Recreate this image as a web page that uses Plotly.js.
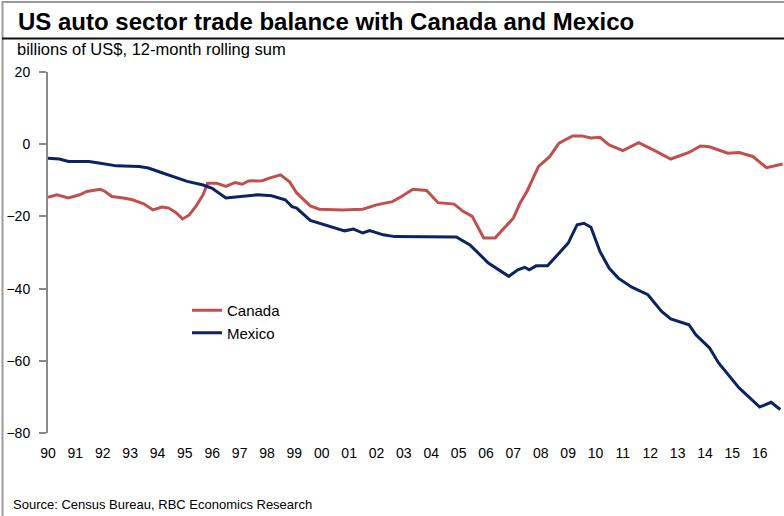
<!DOCTYPE html>
<html>
<head>
<meta charset="utf-8">
<script src="https://cdn.plot.ly/plotly-3.0.1.min.js"></script>
<style>html,body{margin:0;padding:0;background:#fff;}#chart{width:784px;height:516px;}</style>
</head>
<body>
<div id="chart"></div>
<script>
// Canada: US auto sector trade balance, billions of US$, 12-month rolling sum
var canadaDates = ["1990-01","1990-05","1990-10","1991-03","1991-06","1991-12","1992-02","1992-05","1992-10","1993-02","1993-07","1993-11","1994-03","1994-06","1994-09","1994-12","1995-03","1995-06","1995-09","1995-11","1996-03","1996-07","1996-11","1997-02","1997-05","1997-11","1998-02","1998-07","1998-11","1999-02","1999-08","1999-12","2000-10","2001-07","2002-01","2002-08","2002-12","2003-05","2003-11","2004-04","2004-11","2005-03","2005-07","2005-12","2006-05","2007-01","2007-04","2007-07","2007-12","2008-05","2008-09","2009-03","2009-07","2009-11","2010-03","2010-07","2011-01","2011-08","2012-03","2012-10","2013-06","2013-11","2014-03","2014-07","2014-11","2015-04","2015-10","2016-04","2016-11"];
var canadaValues = [-14.7,-14.0,-14.9,-14.0,-13.1,-12.5,-13.1,-14.5,-14.9,-15.4,-16.5,-18.2,-17.4,-17.7,-18.9,-20.7,-19.6,-17.1,-14.0,-10.8,-10.8,-11.7,-10.6,-11.1,-10.2,-10.1,-9.4,-8.5,-10.5,-13.5,-17.1,-18.0,-18.2,-18.0,-16.8,-15.9,-14.5,-12.5,-12.8,-16.2,-16.6,-18.6,-20.0,-26.0,-26.0,-20.5,-16.3,-13.1,-6.2,-3.4,0.3,2.3,2.3,1.7,1.9,-0.2,-1.8,0.4,-1.8,-4.1,-2.3,-0.5,-0.7,-1.6,-2.5,-2.3,-3.4,-6.5,-5.5];

// Mexico
var mexicoDates = ["1990-01","1990-06","1990-10","1991-07","1991-12","1992-07","1993-05","1993-09","1994-03","1994-09","1995-02","1995-09","1996-01","1996-07","1997-01","1997-09","1998-03","1998-09","1998-12","1999-02","1999-08","2000-04","2000-11","2001-03","2001-07","2001-10","2002-04","2002-09","2003-12","2004-12","2005-06","2006-02","2006-11","2007-03","2007-06","2007-08","2007-11","2008-04","2008-09","2009-01","2009-05","2009-08","2009-11","2010-03","2010-07","2010-11","2011-05","2011-12","2012-06","2012-10","2013-06","2013-09","2014-03","2014-07","2015-04","2016-01","2016-06","2016-10"];
var mexicoValues = [-3.9,-4.1,-4.8,-4.8,-5.3,-6.0,-6.2,-6.6,-7.9,-9.1,-10.3,-11.3,-12.2,-14.9,-14.5,-14.0,-14.3,-15.4,-17.3,-17.7,-21.1,-22.6,-24.0,-23.5,-24.6,-23.9,-25.1,-25.6,-25.7,-25.7,-27.9,-32.9,-36.6,-34.8,-34.1,-34.8,-33.7,-33.7,-30.2,-27.4,-22.3,-21.9,-23.0,-29.7,-34.3,-37.1,-39.6,-41.7,-46.3,-48.4,-50.0,-52.8,-56.4,-60.6,-67.5,-72.8,-71.5,-73.5];

var yTicks = [-80,-60,-40,-20,0,20];
var gridTicks = [-80,-60,-40,-20];
var titleText = "US auto sector trade balance with Canada and Mexico";
var subtitleText = "billions of US$, 12-month rolling sum";
var sourceText = "Source: Census Bureau, RBC Economics Research";

var FONT = "Liberation Sans, Arial, sans-serif";
var GRID = "#898989";

var traces = [
  {x: canadaDates, y: canadaValues, name: "Canada", type: "scatter", mode: "lines",
   line: {color: "#C0504D", width: 3}},
  {x: mexicoDates, y: mexicoValues, name: "Mexico", type: "scatter", mode: "lines",
   line: {color: "#0B2263", width: 3}}
];

// pixel helpers for decoration placement (plot area: x 48..784, y 72..433)
function px(x){ return (x - 48) / 736; }
function py(y){ return (433 - y) / 361; }

var layout = {
  width: 784, height: 516,
  margin: {l: 48, r: 0, t: 72, b: 83},
  paper_bgcolor: "#fff", plot_bgcolor: "#fff",
  font: {family: FONT, size: 14, color: "#000"},
  showlegend: true,
  legend: {x: px(187), y: py(294), xanchor: "left", yanchor: "top",
           bgcolor: "rgba(0,0,0,0)", borderwidth: 0, itemwidth: 30,
           font: {family: FONT, size: 15, color: "#000"}, tracegroupgap: 0},
  xaxis: {type: "date", range: ["1990-01-01", "2016-11-20"],
          tick0: "1990-01-01", dtick: "M12", tickformat: "%y",
          ticks: "", showgrid: false, showline: false, zeroline: false,
          ticklabelstandoff: 10, tickfont: {family: FONT, size: 14, color: "#000"}},
  xaxis2: {type: "date", overlaying: "x", matches: "x", anchor: "free", position: 0.8,
           side: "bottom", tick0: "1990-01-01", dtick: "M12",
           ticks: "outside", ticklen: 7, tickwidth: 2, tickcolor: GRID,
           showline: true, linecolor: GRID, linewidth: 2,
           showticklabels: false, showgrid: false, zeroline: false},
  yaxis: {range: [-80, 20], tickvals: yTicks, ticks: "outside", ticklen: 7, tickwidth: 2,
          tickcolor: GRID, showline: true, linecolor: GRID, linewidth: 2,
          showgrid: false, zeroline: false, ticklabelstandoff: 6,
          tickfont: {family: FONT, size: 14, color: "#000"}},
  yaxis2: {overlaying: "y", matches: "y", range: [-80, 20], tickvals: gridTicks,
           showgrid: true, gridcolor: GRID, gridwidth: 2, showticklabels: false,
           ticks: "", showline: false, zeroline: false},
  shapes: [
    {type: "line", xref: "paper", yref: "paper", x0: px(2.5), x1: px(2.5), y0: py(1), y1: py(516),
     line: {color: "#9b9b9b", width: 2}},
    {type: "line", xref: "paper", yref: "paper", x0: px(2), x1: px(784), y0: py(2), y1: py(2),
     line: {color: "#9b9b9b", width: 2}},
    {type: "line", xref: "paper", yref: "paper", x0: px(2), x1: px(784), y0: py(38.5), y1: py(38.5),
     line: {color: "#111", width: 2}}
  ],
  annotations: [
    {text: "<b>" + titleText + "</b>", xref: "paper", yref: "paper", x: px(16), y: py(21),
     xanchor: "left", yanchor: "middle", showarrow: false,
     font: {family: FONT, size: 24, color: "#000"}},
    {text: subtitleText, xref: "paper", yref: "paper", x: px(15), y: py(49),
     xanchor: "left", yanchor: "middle", showarrow: false,
     font: {family: FONT, size: 16.5, color: "#000"}},
    {text: sourceText, xref: "paper", yref: "paper", x: px(11), y: py(504),
     xanchor: "left", yanchor: "middle", showarrow: false,
     font: {family: FONT, size: 13, color: "#000"}}
  ]
};

Plotly.newPlot("chart", traces, layout, {displayModeBar: false, staticPlot: true});
</script>
</body>
</html>
